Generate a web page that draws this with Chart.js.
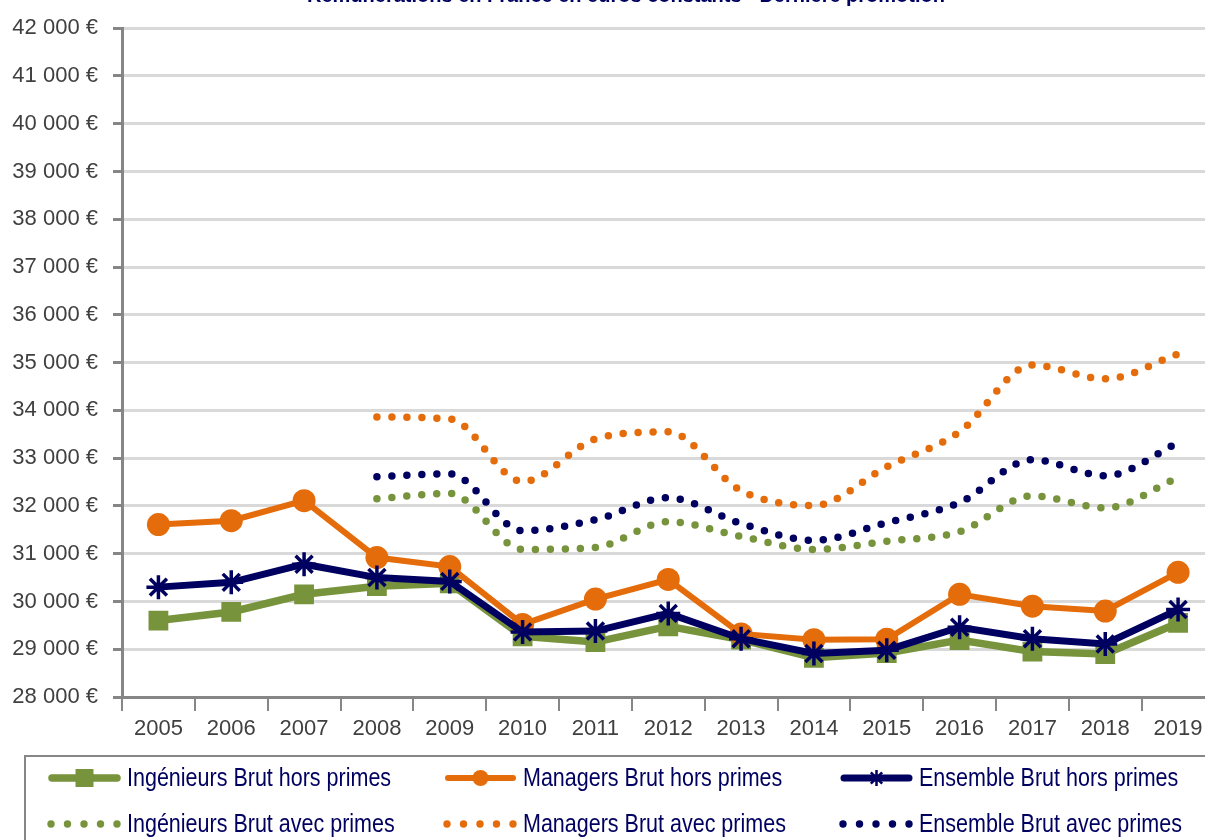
<!DOCTYPE html>
<html>
<head>
<meta charset="utf-8">
<script src="https://cdn.jsdelivr.net/npm/chart.js@4.4.1/dist/chart.umd.min.js"></script>
<style>
  html, body { margin: 0; padding: 0; background: #fff; overflow: hidden; }
  #wrap { position: absolute; left: 0; top: 0; width: 1230px; height: 870px; }
</style>
</head>
<body>
<div id="wrap"><canvas id="salaires" width="1230" height="870"></canvas></div>
<script>
// ===== donnees =====
const annees = ['2005', '2006', '2007', '2008', '2009', '2010', '2011', '2012', '2013', '2014', '2015', '2016', '2017', '2018', '2019'];

const ingenieursHors = [29600, 29780, 30150, 30320, 30380, 29270, 29150, 29480, 29200, 28820, 28920, 29190, 28950, 28900, 29550];
const managersHors = [31610, 31690, 32110, 30920, 30730, 29520, 30050, 30460, 29320, 29200, 29210, 30150, 29900, 29800, 30610];
const ensembleHors = [30300, 30400, 30780, 30500, 30420, 29360, 29380, 29750, 29220, 28910, 28980, 29460, 29220, 29110, 29830];

const ingenieursAvec = [null, null, null, 32150, 32260, 31090, 31130, 31670, 31360, 31090, 31260, 31460, 32210, 31960, 32590];
const managersAvec = [null, null, null, 33860, 33820, 32510, 33400, 33550, 32320, 32010, 32820, 33550, 34950, 34660, 35180];
const ensembleAvec = [null, null, null, 32610, 32670, 31480, 31710, 32170, 31630, 31280, 31650, 32070, 32970, 32630, 33320];

const titre = 'Rémunérations en France en euros constants - Dernière promotion';

const VERT = '#77933c';
const ORANGE = '#e46c0a';
const MARINE = '#000060';
const GRIS = '#868686';

// formate 42000 -> "42 000 €"
const formatEuro = (v) => {
    const s = String(v);
    return s.slice(0, s.length - 3) + ' ' + s.slice(-3) + ' €';
}

// ===== titre + legende dessines a la main =====
const legendeMaison = {
    id: 'legendeMaison',
    afterDraw(chart) {
        const ctx = chart.ctx;
        ctx.save();

        // titre (coupe en haut comme l'original)
        ctx.font = 'bold 20px "Liberation Sans", Arial, sans-serif';
        ctx.fillStyle = MARINE;
        ctx.textAlign = 'center';
        ctx.textBaseline = 'alphabetic';
        ctx.fillText(titre, 626, 2);

        // cadre de la legende
        ctx.strokeStyle = GRIS;
        ctx.lineWidth = 2;
        ctx.strokeRect(25, 756, 1240, 200);

        const colX = [48, 444, 840];
        const rowY = [778, 824];

        chart.data.datasets.forEach((ds, i) => {
            const x0 = colX[i % 3];
            const y = rowY[Math.floor(i / 3)];
            const x1 = x0 + 73;
            const c = ds.borderColor;
            if (!ds.borderDash) {
                ctx.beginPath();
                ctx.strokeStyle = c;
                ctx.lineWidth = ds.borderWidth;
                ctx.lineCap = 'round';
                ctx.moveTo(x0 + 4, y);
                ctx.lineTo(x1 - 4, y);
                ctx.stroke();
                ctx.fillStyle = c;
                ctx.strokeStyle = c;
                ctx.lineWidth = 2.5;
                ctx.lineCap = 'butt';
                Chart.helpers.drawPoint(ctx, {
                    pointStyle: ds.pointStyle,
                    radius: ds.pointStyle === 'rect' ? 12.7 : (ds.pointStyle === 'circle' ? 8 : 8),
                    rotation: 0,
                    borderWidth: ds.pointStyle === 'star' ? 2.5 : 0
                }, (x0 + x1) / 2, y);
            } else {
                ctx.fillStyle = c;
                for (let k = 0; k < 5; k++) {
                    ctx.beginPath();
                    ctx.arc(x0 + 3 + k * 16.5, y, 3.7, 0, Math.PI * 2);
                    ctx.fill();
                }
            }
            // texte un peu condense, comme Arial Narrow
            ctx.save();
            ctx.translate(x1 + 6, y + 1);
            ctx.scale(0.86, 1);
            ctx.font = '25px "Liberation Sans", Arial, sans-serif';
            ctx.textAlign = 'left';
            ctx.textBaseline = 'middle';
            ctx.fillStyle = MARINE;
            ctx.fillText(ds.label, 0, 0);
            ctx.restore();
        });
        ctx.restore();
    }
}

const ligne = (label, data, couleur, style, rayon, epaisseur, ordre) => ({
    label: label,
    data: data,
    borderColor: couleur,
    backgroundColor: couleur,
    borderWidth: epaisseur,
    pointStyle: style,
    pointRadius: rayon,
    pointBorderWidth: style === 'star' ? 3.5 : 0,
    pointBackgroundColor: couleur,
    pointBorderColor: couleur,
    tension: 0,
    order: ordre
});

const pointille = (label, data, couleur, ordre) => ({
    label: label,
    data: data,
    borderColor: couleur,
    backgroundColor: couleur,
    borderWidth: 7.5,
    borderDash: [0, 15],
    borderCapStyle: 'round',
    pointRadius: 0,
    cubicInterpolationMode: 'monotone',
    order: ordre
});

const graphique = new Chart(document.getElementById('salaires'), {
    type: 'line',
    data: {
        labels: annees,
        datasets: [
            ligne('Ingénieurs Brut hors primes', ingenieursHors, VERT, 'rect', 14, 7.5, 3),
            ligne('Managers Brut hors primes', managersHors, ORANGE, 'circle', 11.5, 6, 2),
            ligne('Ensemble Brut hors primes', ensembleHors, MARINE, 'star', 12, 7, 1),
            pointille('Ingénieurs Brut avec primes', ingenieursAvec, VERT, 6),
            pointille('Managers Brut avec primes', managersAvec, ORANGE, 5),
            pointille('Ensemble Brut avec primes', ensembleAvec, MARINE, 4)
        ]
    },
    options: {
        responsive: false,
        animation: false,
        layout: { padding: { top: 26, left: 0, right: 13, bottom: 115 } },
        plugins: {
            legend: { display: false },
            tooltip: { enabled: false },
            title: { display: false }
        },
        scales: {
            x: {
                offset: true,
                afterFit: (s) => { s.height = 58; },
                grid: {
                    offset: true,
                    drawOnChartArea: false,
                    drawTicks: true,
                    tickLength: 14,
                    tickColor: GRIS,
                    lineWidth: 2
                },
                border: { color: GRIS, width: 3 },
                ticks: {
                    color: '#404040',
                    padding: 5,
                    maxRotation: 0,
                    autoSkip: false,
                    font: { family: '"Liberation Sans", Arial, sans-serif', size: 22 }
                }
            },
            y: {
                min: 28000,
                max: 42000,
                afterFit: (s) => { s.width = 122; },
                grid: {
                    color: '#d9d9d9',
                    lineWidth: 3,
                    drawTicks: true,
                    tickLength: 9,
                    tickColor: GRIS
                },
                border: { color: GRIS, width: 3 },
                ticks: {
                    stepSize: 1000,
                    color: '#404040',
                    padding: 15,
                    callback: (v) => formatEuro(v),
                    font: { family: '"Liberation Sans", Arial, sans-serif', size: 22 }
                }
            }
        }
    },
    plugins: [legendeMaison]
});
</script>
</body>
</html>
